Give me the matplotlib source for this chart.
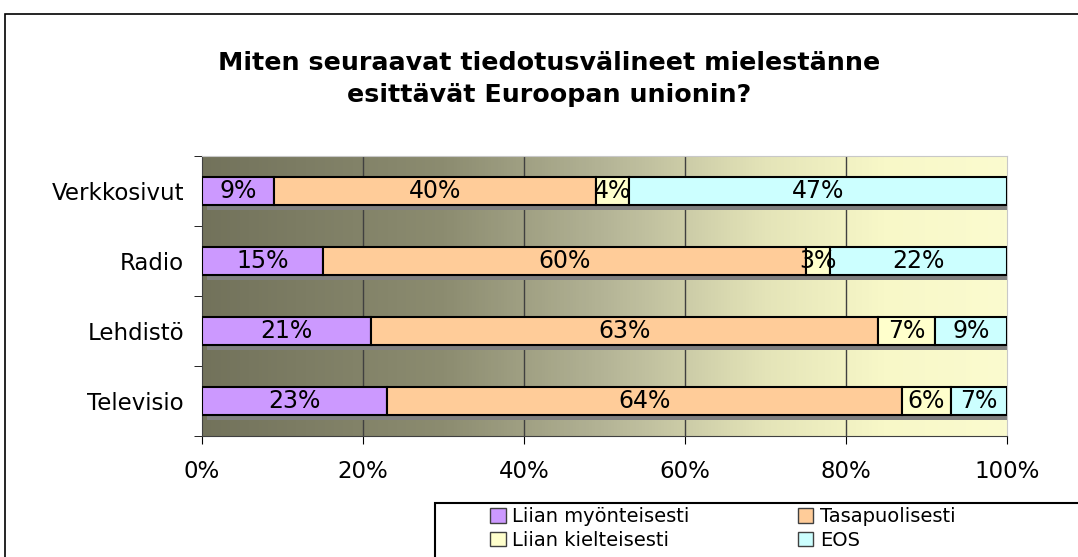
import numpy as np
import matplotlib.pyplot as plt
from matplotlib.colors import LinearSegmentedColormap
from matplotlib.patches import Rectangle, Patch

# data
media = ["Verkkosivut", "Radio", "Lehdistö", "Televisio"]
series_names = ["Liian myönteisesti", "Tasapuolisesti", "Liian kielteisesti", "EOS"]
myonteisesti = [9, 15, 21, 23]
tasapuolisesti = [40, 60, 63, 64]
kielteisesti = [4, 3, 7, 6]
eos = [47, 22, 9, 7]
colors = ["#cc99ff", "#ffcc99", "#ffffcc", "#ccffff"]
xticks = [0, 20, 40, 60, 80, 100]

title = "Miten seuraavat tiedotusvälineet mielestänne\nesittävät Euroopan unionin?"

fig = plt.figure(figsize=(10.78, 5.57), dpi=100)
fig.patch.set_facecolor("white")

# outer chart frame (runs off the right and bottom edge like the screenshot)
fig.patches.append(Rectangle((5 / 1078, -0.1), 1.2, 1 - 14 / 557 + 0.1,
                             transform=fig.transFigure, fill=False,
                             edgecolor="black", linewidth=1.2))

ax = fig.add_axes([202 / 1078, 1 - 436 / 557, 805 / 1078, 280 / 557])

# gradient background
cmap = LinearSegmentedColormap.from_list(
    "bg", [(0, "#72725b"), (0.3, "#8c8c70"), (0.5, "#b4b496"),
           (0.7, "#e4e4b8"), (0.85, "#f8f8c8"), (1, "#fbfbcf")])
grad = np.linspace(0, 1, 256).reshape(1, -1)
ax.imshow(grad, aspect="auto", cmap=cmap, extent=[0, 100, 3.5, -0.5], zorder=0)

ax.set_xlim(0, 100)
ax.set_ylim(3.5, -0.5)

for x in xticks[1:-1]:
    ax.axvline(x, color="#404040", linewidth=1, zorder=1)

y = np.arange(len(media))
values = [myonteisesti, tasapuolisesti, kielteisesti, eos]
totals = np.sum(values, axis=0)

# shadows
ax.barh(y + 0.07, totals, left=0.6, height=0.4, color="#808080",
        edgecolor="none", zorder=2)

left = np.zeros(len(media))
for vals, col in zip(values, colors):
    bars = ax.barh(y, vals, left=left, height=0.4, color=col,
                   edgecolor="black", linewidth=1.5, zorder=3)
    for b, v in zip(bars, vals):
        ax.text(b.get_x() + b.get_width() / 2, b.get_y() + b.get_height() / 2,
                f"{v}%", ha="center", va="center", fontsize=17, zorder=4)
    left += np.array(vals)

ax.set_yticks(y)
ax.set_yticklabels(media, fontsize=16.5)
ax.set_yticks(np.arange(-0.5, 4, 1), minor=True)
ax.tick_params(axis="y", which="major", length=0, pad=13)
ax.tick_params(axis="y", which="minor", length=6, direction="out", color="black")

ax.set_xticks(xticks)
ax.set_xticklabels([f"{x}%" for x in xticks], fontsize=16.5)
ax.tick_params(axis="x", length=6, direction="out", color="black", pad=11)

ax.spines["left"].set_color("#404040")
ax.spines["bottom"].set_color("#404040")
ax.spines["top"].set_color("#c8c8c8")
ax.spines["right"].set_color("#c8c8c8")

fig.text(549 / 1078, 1 - 79 / 557, title, ha="center", va="center",
         fontsize=18.3, fontweight="bold", linespacing=1.45)

# legend
fig.patches.append(Rectangle((435 / 1078, -0.1), 0.7, 0.1 + 1 - 503 / 557,
                             transform=fig.transFigure, fill=False,
                             edgecolor="black", linewidth=1.5))
handles = [Patch(facecolor=c, edgecolor="#404040") for c in colors]
order = [0, 2, 1, 3]
fig.legend([handles[i] for i in order], [series_names[i] for i in order],
           ncol=2, loc="upper left", bbox_to_anchor=(488 / 1078, 1 - 505 / 557),
           frameon=False, fontsize=14, handlelength=0.8, handleheight=0.8,
           handletextpad=0.35, columnspacing=5.55, labelspacing=0.25,
           borderpad=0.1, borderaxespad=0)

fig.savefig("out.png", dpi=100)
